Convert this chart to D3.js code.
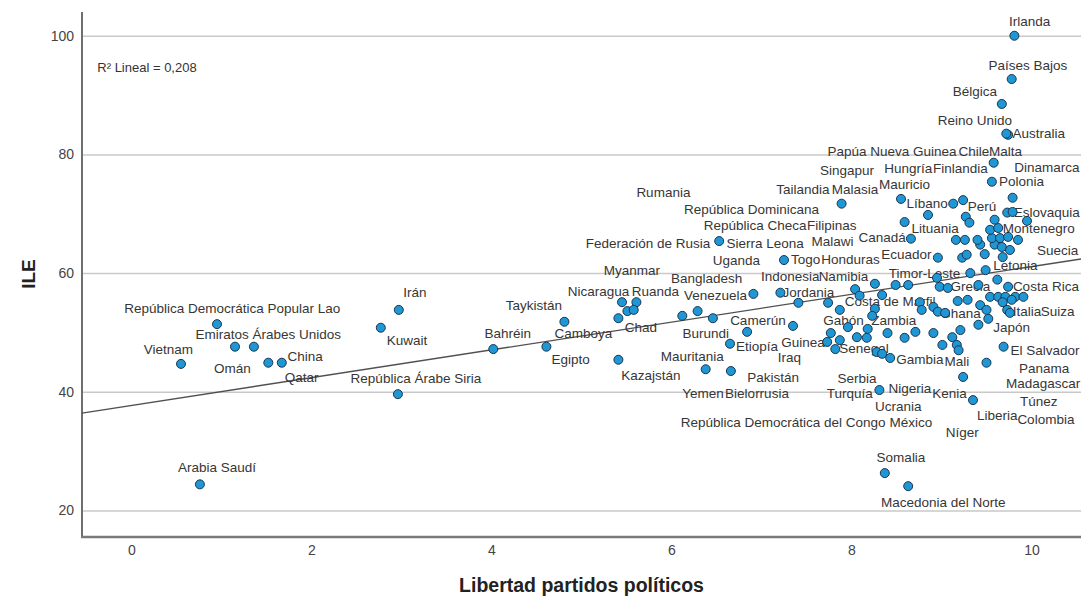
<!DOCTYPE html>
<html><head><meta charset="utf-8">
<script src="https://cdn.jsdelivr.net/npm/d3@7"></script>
<style>
html,body{margin:0;padding:0;background:#fff;}
svg{display:block;font-family:"Liberation Sans",Arial,sans-serif;}
</style></head>
<body>
<svg id="chart" width="1081" height="598"></svg>
<script>
// ---- data ----
const xTicks = [0, 2, 4, 6, 8, 10];
const yTicks = [20, 40, 60, 80, 100];
const xTitle = "Libertad partidos políticos";
const yTitle = "ILE";
const r2Text = "R² Lineal = 0,208";
const fitIntercept = 37.7;
const fitSlope = 2.34;

const pointsX = [0.55,0.95,1.15,1.36,1.52,1.67,0.76,2.77,2.97,2.96,4.02,4.61,4.81,5.41,5.41,5.45,5.61,5.51,5.58,6.12,
 6.29,6.46,6.91,6.84,6.65,6.38,6.66,6.53,7.25,7.89,7.21,7.41,7.74,7.35,7.87,7.96,7.77,7.73,7.87,7.82,
 8.04,8.26,8.34,8.09,8.26,8.23,8.18,8.06,8.17,8.28,8.34,8.43,8.31,8.37,8.63,8.40,8.59,8.71,8.91,9.12,
 9.21,9.01,9.17,9.19,9.24,9.35,9.50,9.69,9.41,9.52,8.49,8.63,8.76,8.78,8.91,8.96,9.04,8.95,8.98,9.07,
 9.18,9.29,9.43,9.41,9.62,9.74,9.54,9.63,9.71,9.82,9.91,9.78,9.68,9.50,9.73,9.76,9.32,9.49,8.96,9.23,
 9.28,9.48,9.68,9.76,9.43,9.59,9.67,9.16,9.26,9.40,9.56,9.65,9.74,9.85,8.66,9.54,9.63,8.59,9.59,9.27,
 9.31,8.85,9.73,9.79,9.95,8.55,9.13,9.24,9.79,9.56,9.58,9.74,9.72,9.67,9.78,9.81];
const pointsY = [44.7,51.4,47.6,47.6,44.9,44.9,24.4,50.8,53.8,39.6,47.2,47.6,51.8,45.4,52.4,55.1,55.1,53.6,53.8,52.8,
 53.6,52.4,56.5,50.1,48.1,43.8,43.5,65.4,62.2,71.7,56.7,55.0,55.0,51.1,53.8,50.9,49.9,48.4,48.7,47.2,
 57.3,58.2,56.3,56.2,54.0,52.8,50.6,49.2,49.1,46.7,46.4,45.7,40.3,26.3,24.1,49.9,49.1,50.1,49.9,49.2,
 50.4,47.9,47.9,47.0,42.5,38.6,44.9,47.6,51.3,52.3,58.0,58.0,55.1,53.8,54.3,53.5,53.3,59.2,57.7,57.5,
 55.3,55.5,54.6,58.0,58.9,57.7,56.0,56.0,56.0,56.0,56.0,55.5,55.1,53.8,53.8,53.3,60.0,60.5,62.6,62.6,
 63.1,63.2,62.7,63.9,64.8,64.8,64.4,65.6,65.6,65.6,65.9,65.9,66.1,65.6,65.8,67.3,67.6,68.6,69.0,69.5,
 68.5,69.8,70.2,70.3,68.8,72.5,71.7,72.3,72.7,75.4,78.6,83.3,83.5,88.5,92.7,100.0];

const labelText = ["Irlanda","Países Bajos","Bélgica","Reino Unido","Australia","Papúa Nueva Guinea","Chile","Malta",
 "Dinamarca","Singapur","Hungría","Finlandia","Polonia","Mauricio","Tailandia","Malasia","Rumania","República Dominicana",
 "Líbano","Perú","Eslovaquia","República Checa","Filipinas","Lituania","Montenegro","Federación de Rusia","Sierra Leona",
 "Canadá","Malawi","Ecuador","Uganda","Togo","Honduras","Suecia","Letonia","Timor-Leste","Myanmar","Bangladesh",
 "Indonesia","Namibia","Grecia","Costa Rica","Nicaragua","Ruanda","Venezuela","Jordania","Costa de Marfil","Taykistán",
 "Italia","Suiza","Ghana","Camerún","Gabón","Zambia","Chad","Japón","Camboya","Bahréin","Burundi",
 "Emiratos Árabes Unidos","República Democrática Popular Lao","Irán","Kuwait","Guinea","Etiopía","Senegal","Vietnam",
 "El Salvador","China","Mauritania","Iraq","Gambia","Mali","Egipto","Omán","Panama","Kazajstán","Pakistán","Serbia",
 "Qatar","República Árabe Siria","Madagascar","Nigeria","Yemen","Bielorrusia","Turquía","Kenia","Túnez","Ucrania",
 "Liberia","Colombia","República Democrática del Congo","México","Níger","Somalia","Macedonia del Norte","Arabia Saudí"];
const labelX = [9.98,9.96,9.37,9.37,10.08,8.45,9.36,9.71,10.17,7.95,8.63,9.21,9.89,8.59,7.46,8.04,5.91,6.89,
 8.84,9.45,10.17,6.93,7.78,8.93,10.08,5.74,7.04,8.34,7.79,8.61,6.72,7.49,7.99,10.29,9.82,8.81,5.56,6.39,
 7.32,7.91,9.32,10.16,5.19,5.82,6.49,7.52,8.43,4.47,9.95,10.29,9.21,6.96,7.91,8.47,5.66,9.78,5.02,4.18,6.38,
 1.52,1.12,3.15,3.06,7.46,6.95,8.14,0.41,10.15,1.93,6.23,7.31,8.76,9.17,4.88,1.12,10.14,5.77,7.13,8.06,
 1.89,3.16,10.13,8.65,6.35,6.95,7.98,9.09,10.08,8.52,9.62,10.16,7.24,8.66,9.23,8.55,9.02,0.95];
const labelY = [102.5,95.1,90.6,85.8,83.5,80.6,80.6,80.6,77.9,77.4,77.7,77.7,75.4,74.9,74.2,74.2,73.7,70.7,
 71.8,71.2,70.3,68.1,68.1,67.6,67.6,65.1,65.1,66.1,65.4,63.2,62.2,62.4,62.4,63.9,61.4,60.0,60.4,59.2,
 59.5,59.5,57.7,57.8,57.0,57.0,56.2,56.7,55.3,54.5,53.5,53.5,53.3,52.1,52.1,52.1,50.9,50.8,49.9,49.9,49.9,
 49.7,54.1,56.7,48.6,48.4,47.7,47.4,47.2,47.0,46.0,46.0,45.9,45.4,45.2,45.4,44.0,44.0,42.8,42.5,42.3,
 42.5,42.3,41.5,40.6,39.8,39.8,39.8,39.8,38.4,37.6,36.1,35.4,34.9,34.9,33.2,29.0,21.4,27.2];
const r2Pos = [-0.38, 94.6];

// ---- layout ----
const margin = {top: 12, right: 0, bottom: 62, left: 82};
const W = 1081, H = 598;
const svg = d3.select("#chart");
const x = d3.scaleLinear().domain([-0.55, 10.55]).range([margin.left, W - margin.right]);
const y = d3.scaleLinear().domain([15.7, 104]).range([H - margin.bottom, margin.top]);

// gridlines
svg.append("g")
  .attr("transform", `translate(${margin.left},0)`)
  .call(d3.axisLeft(y).tickValues(yTicks).tickSize(-(W - margin.left - margin.right)).tickFormat(""))
  .call(g => g.select(".domain").remove())
  .call(g => g.selectAll("line").attr("stroke", "#c9c9c9").attr("stroke-width", 1.5));

// y tick labels
svg.append("g")
  .attr("transform", `translate(${margin.left},0)`)
  .call(d3.axisLeft(y).tickValues(yTicks).tickSize(0).tickPadding(8).tickFormat(d3.format("d")))
  .call(g => g.select(".domain").remove())
  .call(g => g.selectAll("text").attr("font-size", 14).attr("fill", "#444")
     .attr("font-family", "Liberation Sans, Arial, sans-serif"));

// x tick labels
svg.append("g")
  .attr("transform", `translate(0,${H - margin.bottom})`)
  .call(d3.axisBottom(x).tickValues(xTicks).tickSize(0).tickPadding(9).tickFormat(d3.format("d")))
  .call(g => g.select(".domain").remove())
  .call(g => g.selectAll("text").attr("font-size", 14).attr("fill", "#444")
     .attr("font-family", "Liberation Sans, Arial, sans-serif"));

// axis lines
svg.append("line").attr("x1", margin.left).attr("x2", margin.left)
  .attr("y1", y.range()[1]).attr("y2", y.range()[0] + 1)
  .attr("stroke", "#6e6e6e").attr("stroke-width", 2);
svg.append("line").attr("x1", margin.left - 1).attr("x2", W)
  .attr("y1", y.range()[0] + 1).attr("y2", y.range()[0] + 1)
  .attr("stroke", "#7a7a7a").attr("stroke-width", 2.5);

// fit line
const xd = x.domain();
svg.append("line")
  .attr("x1", x(xd[0])).attr("y1", y(fitIntercept + fitSlope * xd[0]))
  .attr("x2", x(xd[1])).attr("y2", y(fitIntercept + fitSlope * xd[1]))
  .attr("stroke", "#505050").attr("stroke-width", 1.4);

// labels
svg.append("g").selectAll("text").data(labelText).join("text")
  .attr("x", (d, i) => x(labelX[i]))
  .attr("y", (d, i) => y(labelY[i]))
  .attr("dy", "0.35em")
  .attr("text-anchor", "middle")
  .attr("font-size", 13.5)
  .attr("fill", "#363636")
  .text(d => d);

// points
svg.append("g").selectAll("circle").data(pointsX).join("circle")
  .attr("cx", d => x(d))
  .attr("cy", (d, i) => y(pointsY[i]))
  .attr("r", 4.5)
  .attr("fill", "#1f97d4")
  .attr("stroke", "#1b3550")
  .attr("stroke-width", 1);

// R2 annotation
svg.append("text").attr("x", x(r2Pos[0])).attr("y", y(r2Pos[1])).attr("dy", "0.35em")
  .attr("font-size", 13).attr("fill", "#333").text(r2Text);

// titles
svg.append("text").attr("x", (margin.left + W) / 2).attr("y", 585).attr("dy", "0.35em")
  .attr("text-anchor", "middle").attr("font-size", 19.5).attr("font-weight", "bold").attr("fill", "#222")
  .text(xTitle);
svg.append("text").attr("transform", `translate(28,${(y.range()[0] + y.range()[1]) / 2}) rotate(-90)`)
  .attr("dy", "0.35em").attr("text-anchor", "middle").attr("font-size", 19).attr("font-weight", "bold")
  .attr("fill", "#222").text(yTitle);
</script>
</body></html>
